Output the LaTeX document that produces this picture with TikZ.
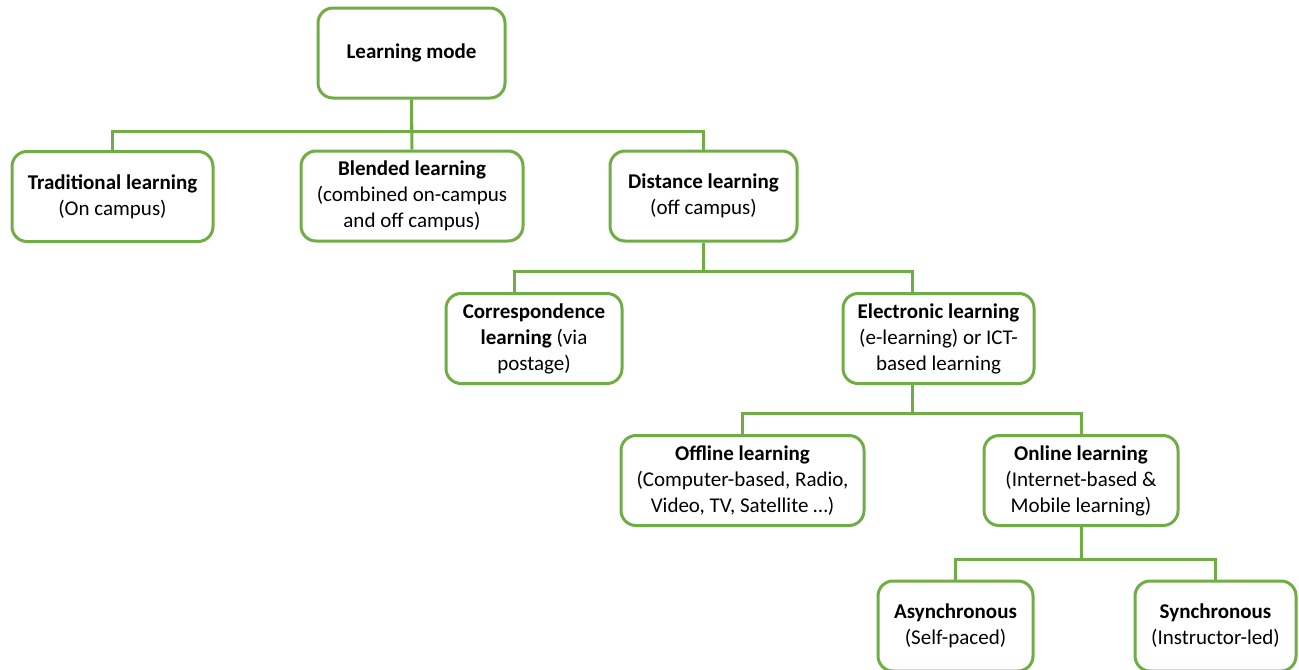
\documentclass[tikz,border=0pt]{standalone}
\usepackage{fontspec}
\setmainfont{Carlito}
\usepackage{tikz}
\usetikzlibrary{positioning}
\definecolor{leafgreen}{RGB}{112,173,71}

\begin{document}
\begin{tikzpicture}[
    x=0.5pt, y=-0.5pt,
    mode/.style={rectangle, draw=leafgreen, line width=1.5pt, rounded corners=7.5pt, fill=white,
        align=center, inner sep=2pt, minimum height=45pt, font=\fontsize{10.5}{13}\selectfont},
    link/.style={draw=leafgreen, line width=1.5pt}
]
\useasboundingbox (0,0) rectangle (1299,669);

% --- Top level ---
\node[mode, minimum width=93.5pt] (root) at (411.5, 53) {\textbf{Learning mode}};
\node[mode, minimum width=100.5pt] (trad) at (112.5, 196.5) {\textbf{Traditional learning}\\(On campus)};
\node[mode, minimum width=111pt] (blend) at (412, 196) {\textbf{Blended learning}\\(combined on-campus\\and off campus)};
\node[mode, minimum width=93.5pt] (dist) at (703.5, 196) {\textbf{Distance learning}\\(off campus)};
\draw[link] (root.south) -- ++(0,32) -| (trad.north);
\draw[link] (root.south) -- ++(0,32) -| (dist.north);
\draw[link] (root.south) -- (blend.north);

% --- Distance learning ---
\node[mode, minimum width=88pt] (corr) at (534, 338.5) {\textbf{Correspondence}\\\textbf{learning} (via\\postage)};
\node[mode, minimum width=95.5pt] (elec) at (938.5, 338.5) {\textbf{Electronic learning}\\(e-learning) or ICT-\\based learning};
\draw[link] (dist.south) -- ++(0,29) -| ([xshift=-10pt]corr.north);
\draw[link] (dist.south) -- ++(0,29) -| ([xshift=-13pt]elec.north);

% --- Electronic learning ---
\node[mode, minimum width=121.5pt] (offl) at (742.5, 480.5) {\textbf{Offline learning}\\(Computer-based, Radio,\\Video, TV, Satellite \dots)};
\node[mode, minimum width=97pt] (onl) at (1081, 480.5) {\textbf{Online learning}\\(Internet-based \&\\Mobile learning)};
\draw[link] ([xshift=-13pt]elec.south) -- ++(0,28) -| (offl.north);
\draw[link] ([xshift=-13pt]elec.south) -- ++(0,28) -| (onl.north);

% --- Online learning ---
\node[mode, minimum width=77.5pt] (async) at (955.5, 626) {\textbf{Asynchronous}\\(Self-paced)};
\node[mode, minimum width=80.5pt] (sync) at (1215.5, 626) {\textbf{Synchronous}\\(Instructor-led)};
\draw[link] (onl.south) -- ++(0,32) -| (async.north);
\draw[link] (onl.south) -- ++(0,32) -| (sync.north);
\end{tikzpicture}
\end{document}
